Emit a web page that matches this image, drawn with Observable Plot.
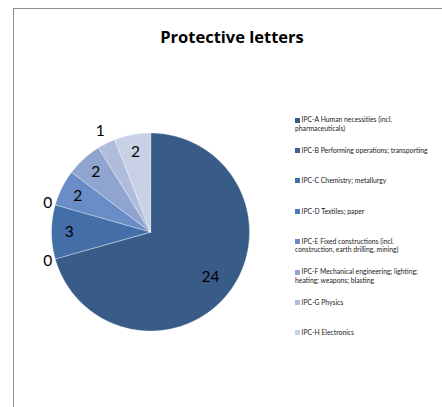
<!DOCTYPE html>
<html>
<head>
<meta charset="utf-8">
<script src="https://cdn.jsdelivr.net/npm/d3@7"></script>
<script src="https://cdn.jsdelivr.net/npm/@observablehq/plot@0.6"></script>
<style>
  html, body { margin: 0; padding: 0; background: #fff; }
  #wrap { position: relative; width: 442px; height: 407px; overflow: hidden; font-family: Lato, sans-serif; }
  #frame { position: absolute; left: 13px; top: 8px; width: 460px; height: 420px; border-left: 1px solid #8e8e8e; border-top: 1px solid #8e8e8e; }
  #title { position: absolute; left: 13px; width: 438px; top: 29px; text-align: center; font-family: "Open Sans", sans-serif; font-weight: bold; font-size: 16.5px; line-height: 16px; color: #000; }
  #chart { position: absolute; left: 0; top: 0; }
  .lg { position: absolute; left: 295px; width: 134px; font-size: 6.8px; line-height: 8.3px; color: #222; }
  .sw { display: inline-block; width: 5px; height: 5px; margin-right: 1.5px; vertical-align: -0.3px; }
</style>
</head>
<body>
<div id="wrap">
  <div id="frame"></div>
  <div id="chart"></div>
  <div id="title">Protective letters</div>
</div>
<script>
const categories = [
  "IPC-A Human necessities (incl. pharmaceuticals)",
  "IPC-B Performing operations; transporting",
  "IPC-C Chemistry; metallurgy",
  "IPC-D Textiles; paper",
  "IPC-E Fixed constructions (incl. construction, earth drilling, mining)",
  "IPC-F Mechanical engineering; lighting; heating; weapons; blasting",
  "IPC-G Physics",
  "IPC-H Electronics"
];
const values = [24, 0, 3, 0, 2, 2, 1, 2];
const colors = ["#385b88", "#3c6297", "#436ea8", "#4d78b6", "#6a8dc7", "#8fa5cf", "#afbddb", "#c8d1e5"];

const data = categories.map((key, i) => ({key, value: values[i]}));
const arcs = d3.pie().sort(null).value(d => d.value)(data);

// polygon points for each slice (unit radius, angle clockwise from 12 o'clock)
const pts = [];
arcs.forEach(a => {
  if (a.data.value <= 0) return;
  pts.push({key: a.data.key, x: 0, y: 0});
  const n = Math.max(2, Math.ceil((a.endAngle - a.startAngle) / 0.01));
  for (let k = 0; k <= n; k++) {
    const t = a.startAngle + (a.endAngle - a.startAngle) * k / n;
    pts.push({key: a.data.key, x: Math.sin(t), y: Math.cos(t)});
  }
});

const labels = arcs.map(a => {
  const m = (a.startAngle + a.endAngle) / 2;
  const r = a.data.value <= 0 ? 1.08 : a.data.value <= 1 ? 1.14 : a.data.value >= 10 ? 0.76 : 0.82;
  return {x: r * Math.sin(m), y: r * Math.cos(m), text: String(a.data.value)};
});

const chart = Plot.plot({
  width: 442,
  height: 407,
  marginLeft: 51,
  marginRight: 193,
  marginTop: 132.5,
  marginBottom: 76.5,
  x: {domain: [-1, 1], axis: null},
  y: {domain: [-1, 1], axis: null},
  color: {type: "ordinal", domain: categories, range: colors},
  style: {fontFamily: "Lato, sans-serif", background: "transparent", overflow: "visible"},
  marks: [
    Plot.line(pts, {x: "x", y: "y", z: "key", fill: "key", stroke: "#ffffff", strokeWidth: 0.6, strokeOpacity: 0.6, curve: "linear-closed"}),
    Plot.text(labels, {x: "x", y: "y", text: "text", fontSize: 15.5, fill: "#000"})
  ]
});
document.getElementById("chart").appendChild(chart);

// legend
const wrap = document.getElementById("wrap");
categories.forEach((c, i) => {
  const d = document.createElement("div");
  d.className = "lg";
  d.style.top = (119.5 + i * 30.4 - 4.2) + "px";
  const s = document.createElement("span");
  s.className = "sw";
  s.style.background = colors[i];
  d.appendChild(s);
  d.appendChild(document.createTextNode(c));
  wrap.appendChild(d);
});
</script>
</body>
</html>
